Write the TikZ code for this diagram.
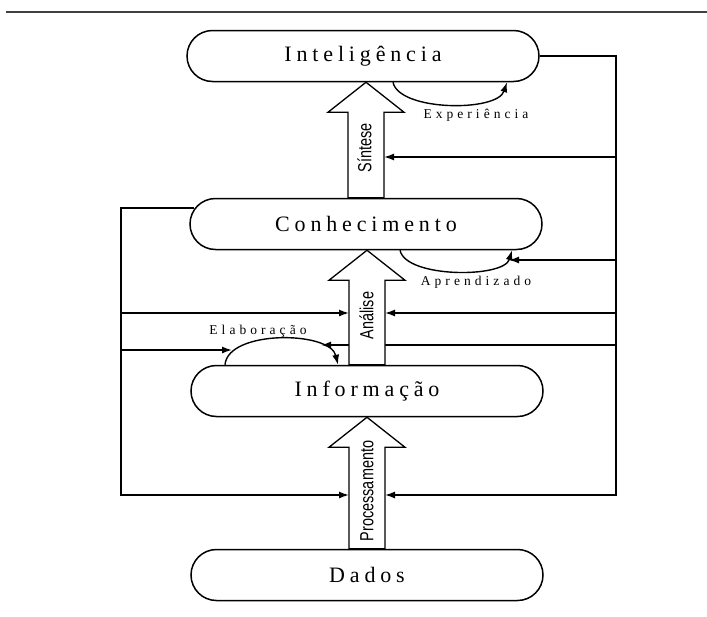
\documentclass[tikz,border=0pt]{standalone}
\usepackage{fontspec}
\setmainfont{Liberation Serif}
\setsansfont{Liberation Sans}
\usetikzlibrary{shapes.misc, arrows.meta, calc}

\begin{document}
\begin{tikzpicture}[x=1pt, y=-1pt,
    box/.style={rounded rectangle, draw, line width=1.5pt, minimum width=352pt,
        minimum height=51pt, inner sep=0pt,
        font=\fontsize{22}{24}\selectfont\addfontfeature{LetterSpace=22}},
    lbl/.style={font=\fontsize{13.5}{15}\selectfont\addfontfeature{LetterSpace=30}},
    fb/.style={line width=1.4pt, -{Latex[length=10pt,width=7pt]}},
    bigarrow/.style={draw, line width=1.3pt, fill=white},
    vert/.style={rotate=90, font=\sffamily\fontsize{19}{21}\selectfont}]

    \useasboundingbox (0,0) rectangle (707,616);
    \draw[line width=1.6pt, black!75] (6,12) -- (707,12);

    % the four levels
    \node[box] (intel) at (363,56) {Inteligência};
    \node[box] (conh) at (366,224) {Conhecimento};
    \node[box] (info) at (367,391) {Informação};
    \node[box] (dados) at (367,575) {Dados};

    % where the feedback arrows end
    \coordinate (rbus) at (616,56);
    \coordinate (lbus) at (121,208);
    \coordinate (sinR) at (384,157);
    \coordinate (aprE) at (509,260);
    \coordinate (anaR) at (385,313);
    \coordinate (anaL) at (349,313);
    \coordinate (elabR) at (321,345);
    \coordinate (elabL) at (232,350);
    \coordinate (procR) at (385,495);
    \coordinate (procL) at (349,495);

    % right feedback bus
    \draw[fb] (intel.east) -- (rbus) |- (procR);
    \foreach \t in {sinR, aprE, anaR, elabR}
        \draw[fb] (rbus |- \t) -- (\t);

    % left feedback bus
    \draw[fb] ($(conh.west)+(5,-16)$) -- (lbus) |- (procL);
    \foreach \t in {anaL, elabL}
        \draw[fb] (lbus |- \t) -- (\t);

    % loops under the boxes
    \draw[fb] ($(intel.south)+(30,0)$) .. controls +(6,29) and +(-10,30) .. ($(intel.south)+(144,0)$);
    \draw[fb] ($(conh.south)+(34,0)$) .. controls +(6,28) and +(-8,28) .. ($(conh.south)+(146,0)$);
    \draw[fb] ($(info.north)+(-142,0)$) .. controls +(3,-35) and +(-8,-34) .. ($(info.north)+(-29,0)$);

    \node[lbl] (exp) at (476,115) {Experiência};
    \node[lbl] (apr) at (476,282) {Aprendizado};
    \node[lbl] (elab) at (258,331) {Elaboração};

    % hollow arrows between the levels
    \foreach \a/\b/\t in {dados/info/Processamento, info/conh/Análise, conh/intel/Síntese} {
        \draw[bigarrow] let \p1=(\a.north), \p2=(\b.south) in
            (\x1-18pt,\y1) -- (\x1-18pt,\y2-30pt) -- (\x1-38pt,\y2-30pt) -- (\x1,\y2)
            -- (\x1+38pt,\y2-30pt) -- (\x1+18pt,\y2-30pt) -- (\x1+18pt,\y1) -- cycle;
        \node[vert] at ($(\a.north)!0.5!(\b.south)+(0,8)$) {\scalebox{0.76}[1]{\t}};
    }
\end{tikzpicture}
\end{document}
